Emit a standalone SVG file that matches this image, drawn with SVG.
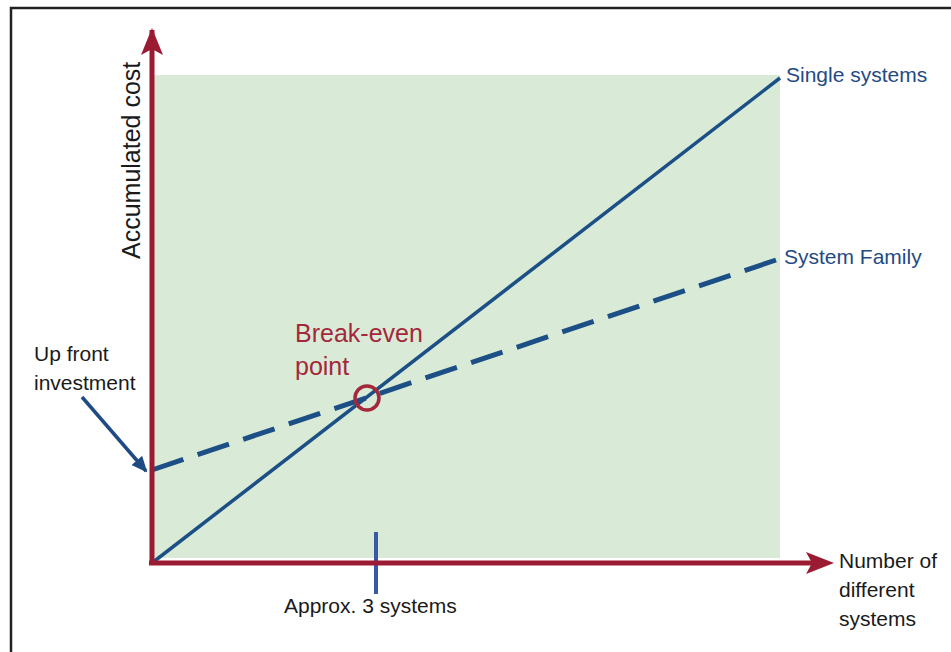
<svg xmlns="http://www.w3.org/2000/svg" width="951" height="652" viewBox="0 0 951 652">
<defs>
<style>
.t{font-family:"Liberation Sans",Arial,sans-serif;font-size:21px}
.dark{fill:#1a1a1a}
.blue{fill:#1f4b85}
.red{fill:#a3283c}
.axis{stroke:#9b1b33;stroke-width:5;fill:none}
.ln{stroke:#1b4f86;stroke-width:3.5;fill:none}
.dash{stroke:#1b4f86;stroke-width:5;fill:none;stroke-dasharray:33.1,15}
</style>
<marker id="ahb" markerWidth="16" markerHeight="16" refX="14" refY="8" orient="auto" markerUnits="userSpaceOnUse" viewBox="0 0 16 16">
<path d="M0,1 L16,8 L0,15 Z" fill="#1f4b85"/>
</marker>
</defs>
<rect width="951" height="652" fill="#ffffff"/>
<path d="M11,652 L11,8 L951,8" fill="none" stroke="#222" stroke-width="2.5"/>
<rect id="area" x="152" y="75" width="628" height="483" fill="#d9ead6"/>
<g id="connectors">
<line class="ln" x1="152" y1="563" x2="780" y2="78"/>
<line class="dash" x1="152" y1="470" x2="776" y2="260"/>
<line x1="376" y1="532" x2="376" y2="594" stroke="#3a58a8" stroke-width="4"/>
<line x1="82" y1="397" x2="146" y2="471" stroke="#1f4b85" stroke-width="3.5" marker-end="url(#ahb)"/>
</g>
<g id="axes">
<path class="axis" d="M152,563 L152,30"/>
<path d="M141,55 L152,28 L163,55 L152,49 Z" fill="#9b1b33"/>
<path class="axis" d="M149,563 L822,563"/>
<path d="M806,552 L834,563 L806,574 L812,563 Z" fill="#9b1b33"/>
</g>
<g id="break-even">
<circle cx="367" cy="398" r="12" fill="none" stroke="#a3283c" stroke-width="3.5"/>
<text class="t red" x="295" y="342" style="font-size:25px">Break-even</text>
<text class="t red" x="295" y="375" style="font-size:25px">point</text>
</g>
<g id="labels">
<text class="t dark" transform="translate(140,259) rotate(-90)" style="font-size:25px">Accumulated cost</text>
<text class="t blue" x="786" y="82">Single systems</text>
<text class="t blue" x="784" y="264">System Family</text>
<text class="t dark" x="34" y="361">Up front</text>
<text class="t dark" x="34" y="390">investment</text>
<text class="t dark" x="284" y="613">Approx. 3 systems</text>
<text class="t dark" x="839" y="568">Number of</text>
<text class="t dark" x="839" y="597">different</text>
<text class="t dark" x="839" y="626">systems</text>
</g>
</svg>
